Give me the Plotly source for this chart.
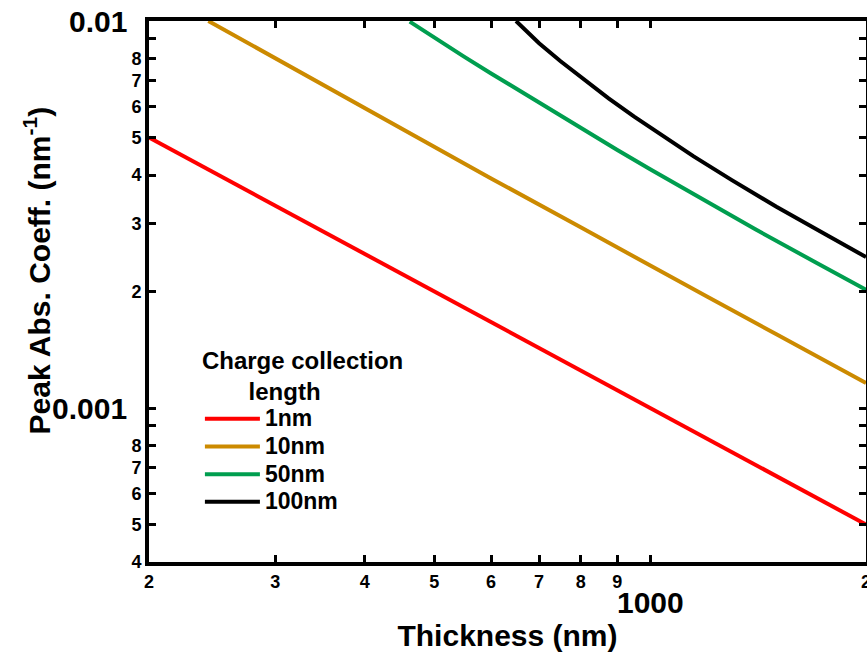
import math
import plotly.graph_objects as go

# ---- data ----
series_names = ["1nm", "10nm", "50nm", "100nm"]
series_colors = ["#ff0000", "#cc8a00", "#009e4f", "#000000"]

thickness_1nm = [200, 300, 400, 500, 600, 700, 800, 900, 1000, 1200, 1500, 2000]
alpha_1nm = [0.00500, 0.00333, 0.00250, 0.00200, 0.00167, 0.00143, 0.00125,
             0.00111, 0.00100, 0.000833, 0.000667, 0.000500]

thickness_10nm = [242, 300, 400, 500, 600, 800, 1000, 1200, 1500, 2000]
alpha_10nm = [0.0100, 0.00800, 0.00595, 0.00472, 0.00392, 0.00293, 0.00233,
              0.00194, 0.00155, 0.00116]

thickness_50nm = [462, 500, 550, 600, 700, 800, 900, 1000, 1200, 1400, 1700, 2000]
alpha_50nm = [0.00996, 0.00904, 0.00809, 0.00732, 0.00614, 0.00529, 0.00464,
              0.00414, 0.00341, 0.00290, 0.00238, 0.00202]

thickness_100nm = [650, 700, 750, 812, 875, 950, 1030, 1150, 1300, 1500, 1750, 2000]
alpha_100nm = [0.0100, 0.00876, 0.00787, 0.00700, 0.00631, 0.00566, 0.00511,
               0.00447, 0.00388, 0.00331, 0.00282, 0.002455]

x_tickvals = [200, 300, 400, 500, 600, 700, 800, 900, 1000, 2000]
x_ticktext = ["2", "3", "4", "5", "6", "7", "8", "9", "", "2"]
y_tickvals = [0.0004, 0.0005, 0.0006, 0.0007, 0.0008, 0.0009, 0.001,
              0.002, 0.003, 0.004, 0.005, 0.006, 0.007, 0.008, 0.009, 0.01]
y_ticktext = ["4", "5", "6", "7", "8", "", "",
              "2", "3", "4", "5", "6", "7", "8", "", ""]
big_y_labels = [(0.01, "0.01"), (0.001, "0.001")]
big_x_labels = [(1000, "1000")]

FONT = "Liberation Sans, Arial, sans-serif"
NBSP = "&nbsp;"

xs = [thickness_1nm, thickness_10nm, thickness_50nm, thickness_100nm]
ys = [alpha_1nm, alpha_10nm, alpha_50nm, alpha_100nm]

fig = go.Figure()
for name, color, x, y in zip(series_names, series_colors, xs, ys):
    fig.add_trace(go.Scatter(
        x=x, y=y, mode="lines",
        name="<span style='font-size:23px'>" + name + "</span>",
        line=dict(color=color, width=4)))

axis_common = dict(
    type="log", showgrid=False, zeroline=False,
    showline=True, linecolor="black", linewidth=4, mirror="ticks",
    ticks="inside", ticklen=7, tickwidth=3, tickcolor="black",
    tickmode="array", ticklabeloverflow="allow",
    tickfont=dict(family=FONT, size=18, color="black", weight="bold"),
)

fig.update_xaxes(
    **axis_common,
    range=[math.log10(200), math.log10(2000)],
    tickvals=x_tickvals, ticktext=x_ticktext,
    title=dict(text="Thickness (nm)",
               font=dict(family=FONT, size=30, color="black", weight="bold"),
               standoff=40),
)
fig.update_yaxes(
    **axis_common,
    range=[math.log10(0.0004), math.log10(0.01)],
    tickvals=y_tickvals, ticktext=y_ticktext,
    title=dict(text=NBSP * 5 + "Peak Abs. Coeff. (nm<sup>-1</sup>)",
               font=dict(family=FONT, size=30, color="black", weight="bold"),
               standoff=73),
)

annotations = []
for v, t in big_y_labels:
    annotations.append(dict(x=0, xref="paper", y=math.log10(v), yref="y",
                            text=t, showarrow=False, xanchor="right",
                            yanchor="middle", xshift=-20,
                            font=dict(family=FONT, size=30, color="black",
                                      weight="bold")))
for v, t in big_x_labels:
    annotations.append(dict(x=math.log10(v), xref="x", y=0, yref="paper",
                            text=t, showarrow=False, xanchor="center",
                            yanchor="top", yshift=-22,
                            font=dict(family=FONT, size=30, color="black",
                                      weight="bold")))

fig.update_layout(
    width=867, height=652,
    margin=dict(l=149, r=1, t=21, b=90, autoexpand=False),
    plot_bgcolor="white", paper_bgcolor="white",
    annotations=annotations,
    legend=dict(
        x=0.071, y=0.415, xanchor="left", yanchor="top",
        bgcolor="rgba(0,0,0,0)",
        font=dict(family=FONT, size=19, color="black", weight="bold"),
        title=dict(text="Charge collection<br>" + NBSP * 7 + "length",
                   side="top",
                   font=dict(family=FONT, size=24, color="black",
                             weight="bold")),
        tracegroupgap=0, itemwidth=55,
    ),
)

fig.write_html("out.html",
               config={"displayModeBar": False},
               post_script="document.body.style.margin='0';"
                           "document.body.style.overflow='hidden';")
